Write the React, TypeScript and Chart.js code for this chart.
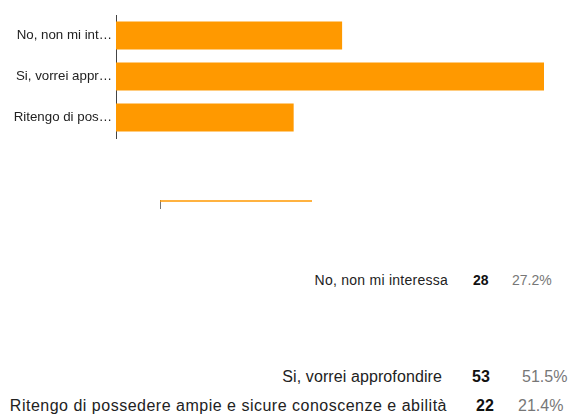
import React, { useEffect, useRef } from "react";
import { Chart, registerables } from "chart.js";

Chart.register(...registerables);

const categories = [
  "No, non mi interessa",
  "Si, vorrei approfondire",
  "Ritengo di possedere ampie e sicure conoscenze e abilità",
];
const tickLabels = ["No, non mi int…", "Si, vorrei appr…", "Ritengo di pos…"];
const counts = [28, 53, 22];
const percents = ["27.2%", "51.5%", "21.4%"];
const xMax = 53;
const miniLabels = ["", "", "", ""];
const miniValues = [1, null, null, null];

const FONT = '"Liberation Sans", Arial, Helvetica, sans-serif';
const ORANGE = "#ff9900";

// layout of the summary rows (positions only)
const rowLayout = [
  { top: 272, size: 14, lh: 16, ls: 0.25, labelRight: 448, numLeft: 473, pctLeft: 512 },
  { top: 368, size: 16, lh: 18, ls: 0.1, labelRight: 442, numLeft: 472, pctLeft: 522 },
  { top: 397, size: 16, lh: 18, ls: 0.5, labelRight: 447, numLeft: 476, pctLeft: 518 },
];

export default function App() {
  const mainRef = useRef<HTMLCanvasElement | null>(null);
  const miniRef = useRef<HTMLCanvasElement | null>(null);

  useEffect(() => {
    const main = new Chart(mainRef.current as HTMLCanvasElement, {
      type: "bar",
      data: {
        labels: tickLabels,
        datasets: [
          {
            data: counts,
            backgroundColor: ORANGE,
            borderWidth: 0,
            categoryPercentage: 1,
            barPercentage: 0.68,
          },
        ],
      },
      options: {
        indexAxis: "y",
        responsive: false,
        animation: false,
        devicePixelRatio: 1,
        layout: { padding: { top: 15, bottom: 8, right: 25, left: 0 } },
        plugins: { legend: { display: false }, tooltip: { enabled: false } },
        scales: {
          x: { display: false, min: 0, max: xMax },
          y: {
            grid: { display: false, drawTicks: false },
            border: { display: true, color: "#444", width: 1 },
            ticks: { color: "#222", font: { family: FONT, size: 13.3 }, padding: 4 },
            afterFit: (s: any) => {
              s.width = 116;
            },
          },
        },
      },
    } as any);

    const mini = new Chart(miniRef.current as HTMLCanvasElement, {
      type: "bar",
      data: {
        labels: miniLabels,
        datasets: [
          {
            data: miniValues,
            backgroundColor: ORANGE,
            borderWidth: 0,
            categoryPercentage: 1,
            barPercentage: 0.75,
          },
        ],
      },
      options: {
        indexAxis: "y",
        responsive: false,
        animation: false,
        devicePixelRatio: 1,
        layout: { padding: { top: 10, bottom: 12, right: 257, left: 0 } },
        plugins: { legend: { display: false }, tooltip: { enabled: false } },
        scales: {
          x: { type: "linear", display: false, min: 0, max: 1 },
          y: {
            grid: { display: false, drawTicks: false },
            ticks: { display: false },
            border: { display: true, color: "#777", width: 1 },
            afterFit: (s: any) => {
              s.width = 160;
            },
          },
        },
      },
    } as any);

    return () => {
      main.destroy();
      mini.destroy();
    };
  }, []);

  return (
    <div
      style={{
        position: "absolute",
        left: 0,
        top: 0,
        width: 569,
        height: 416,
        overflow: "hidden",
        background: "#fff",
        fontFamily: FONT,
      }}
    >
      <canvas
        ref={mainRef}
        width={569}
        height={150}
        style={{ position: "absolute", left: 0, top: 0 }}
      />
      <canvas
        ref={miniRef}
        width={569}
        height={30}
        style={{ position: "absolute", left: 0, top: 190 }}
      />
      {categories.map((c, i) => {
        const r = rowLayout[i];
        const common: React.CSSProperties = {
          position: "absolute",
          top: r.top,
          fontSize: r.size,
          lineHeight: r.lh + "px",
          whiteSpace: "nowrap",
        };
        return (
          <React.Fragment key={c}>
            <div
              style={{
                ...common,
                right: 569 - r.labelRight,
                color: "#222",
                letterSpacing: r.ls + "px",
              }}
            >
              {c}
            </div>
            <div style={{ ...common, left: r.numLeft, color: "#111", fontWeight: "bold" }}>
              {counts[i]}
            </div>
            <div style={{ ...common, left: r.pctLeft, color: "#777" }}>{percents[i]}</div>
          </React.Fragment>
        );
      })}
    </div>
  );
}
